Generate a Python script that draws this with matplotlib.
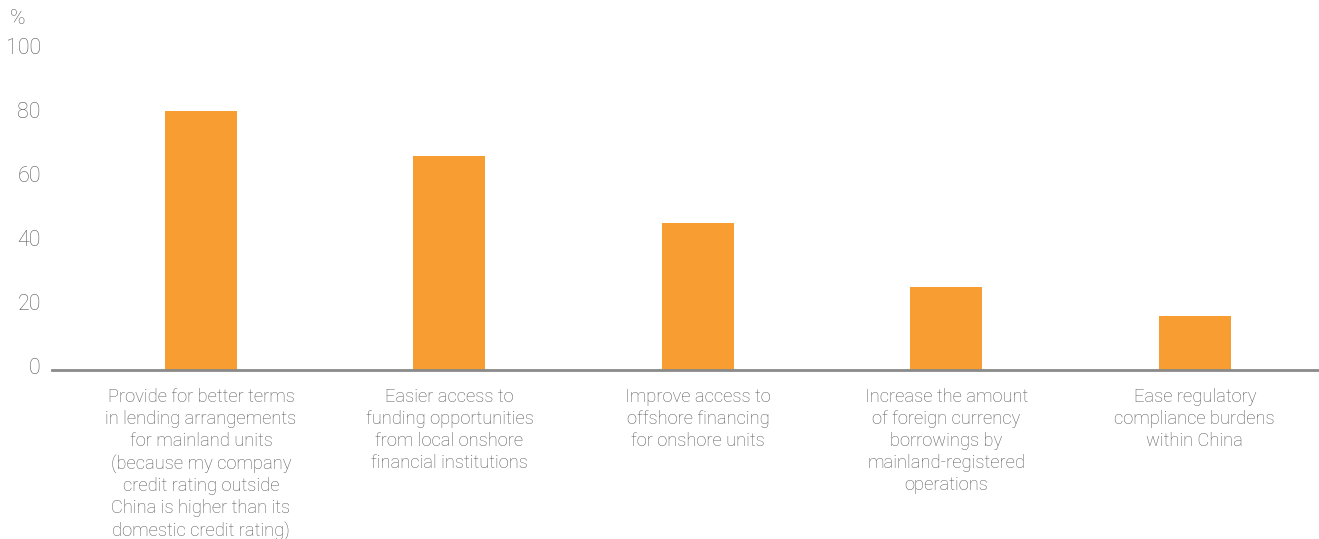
import matplotlib
matplotlib.use("Agg")
import matplotlib.pyplot as plt
import matplotlib.transforms as mtransforms

categories = [
    "Provide for better terms\nin lending arrangements\nfor mainland units\n(because my company\ncredit rating outside\nChina is higher than its\ndomestic credit rating)",
    "Easier access to\nfunding opportunities\nfrom local onshore\nfinancial institutions",
    "Improve access to\noffshore financing\nfor onshore units",
    "Increase the amount\nof foreign currency\nborrowings by\nmainland-registered\noperations",
    "Ease regulatory\ncompliance burdens\nwithin China",
]
shares = [81, 67, 46, 26, 17]
y_ticks = [0, 20, 40, 60, 80, 100]

BAR = "#f89d31"
TEXT = "#5a5a5a"

plt.rcParams["font.family"] = ["Roboto", "DejaVu Sans"]
plt.rcParams["font.weight"] = "light"

fig = plt.figure(figsize=(13.19, 5.39), dpi=100)
ax = fig.add_axes([0.0394, 0.3135, 0.9606, 0.5937])

x = range(len(categories))
ax.bar(x, shares, width=0.29, color=BAR, zorder=2)

ax.set_xlim(-0.6, 4.5)
ax.set_ylim(0, 100)
ax.set_yticks(y_ticks)
ax.set_yticklabels([str(t) for t in y_ticks], fontsize=15.5, color=TEXT)
ax.set_xticks(list(x))
ax.set_xticklabels(categories, fontsize=13.2, color=TEXT, linespacing=1.28)

for s in ["top", "right", "left"]:
    ax.spines[s].set_visible(False)
ax.spines["bottom"].set_color("#8a8a8a")
ax.spines["bottom"].set_linewidth(2)
ax.tick_params(axis="both", length=0)
ax.tick_params(axis="y", pad=8)
ax.tick_params(axis="x", pad=13)

# nudge y labels up a little
shift = mtransforms.ScaledTranslation(0, 4 / 100, fig.dpi_scale_trans)
for lbl in ax.get_yticklabels():
    lbl.set_transform(lbl.get_transform() + shift)

fig.text(10 / 1319, 1 - 18 / 539, "%", fontsize=15, color=TEXT, va="center", ha="left")

fig.savefig("out.png", dpi=100)
